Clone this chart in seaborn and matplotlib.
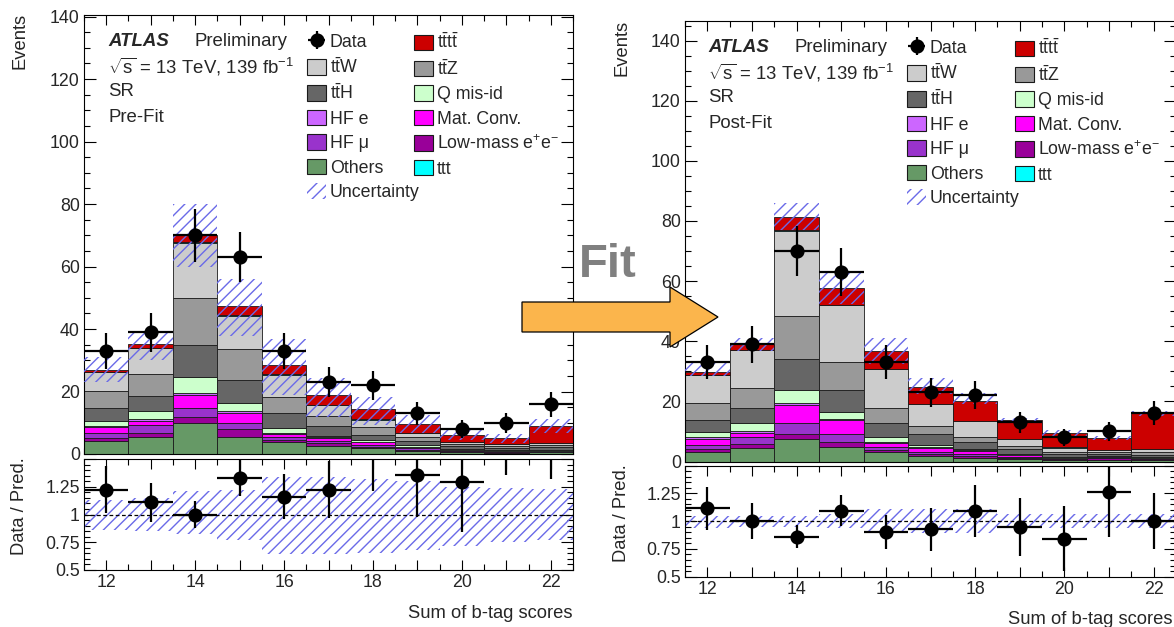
import numpy as np
import pandas as pd
import matplotlib
matplotlib.use("Agg")
import matplotlib.pyplot as plt
import seaborn as sns
from matplotlib.patches import Patch, Polygon
from matplotlib.ticker import MultipleLocator, FuncFormatter

# ---------------- binning: sum of b-tag scores ----------------
bin_edges = [11.5, 12.5, 13.5, 14.5, 15.5, 16.5, 17.5, 18.5, 19.5, 20.5, 21.5, 22.5]
bin_centers = [12, 13, 14, 15, 16, 17, 18, 19, 20, 21, 22]

# ---------------- observed data ----------------
data_events = [33, 39, 70, 63, 33, 23, 22, 13, 8, 10, 16]
data_err = [5.7, 6.2, 8.4, 7.9, 5.7, 4.8, 4.7, 3.6, 2.8, 3.2, 4.0]

# ---------------- pre-fit prediction per process ----------------
pre_others = [4.3, 5.5, 9.8, 5.6, 3.7, 2.7, 1.8, 1.0, 0.5, 0.4, 0.5]
pre_lowmass = [0.9, 1.1, 2.1, 2.3, 0.8, 0.7, 0.5, 0.4, 0.3, 0.2, 0.2]
pre_hfmu = [1.4, 2.7, 2.9, 2.1, 0.8, 0.8, 0.7, 0.4, 0.2, 0.2, 0.2]
pre_matconv = [2.0, 1.2, 4.0, 3.2, 1.1, 0.8, 0.8, 0.4, 0.2, 0.1, 0.1]
pre_hfe = [0.4, 0.7, 0.7, 0.6, 0.3, 0.3, 0.2, 0.2, 0.1, 0.1, 0.1]
pre_qmisid = [1.7, 2.6, 5.0, 2.6, 1.7, 0.6, 0.4, 0.4, 0.3, 0.2, 0.2]
pre_tth = [3.9, 4.8, 10.4, 7.3, 4.8, 3.2, 1.8, 1.4, 0.9, 0.8, 0.8]
pre_ttz = [5.5, 6.9, 14.9, 9.8, 4.9, 3.2, 2.3, 1.3, 0.8, 0.6, 0.7]
pre_ttw = [6.1, 8.3, 17.8, 10.8, 7.3, 3.4, 2.5, 1.1, 0.6, 0.5, 0.6]
pre_ttt = [0.1, 0.1, 0.2, 0.2, 0.1, 0.1, 0.1, 0.1, 0.1, 0.1, 0.1]
pre_tttt = [0.7, 1.2, 2.3, 2.9, 2.9, 3.0, 3.2, 2.9, 2.2, 1.8, 5.6]

pre_band_lo = [23.0, 30.0, 59.7, 37.8, 18.8, 11.9, 9.3, 6.6, 4.5, 3.6, 6.8]
pre_band_hi = [31.0, 39.0, 80.0, 56.0, 36.7, 24.2, 18.3, 12.5, 8.0, 6.5, 11.1]
pre_ratio_lo = [0.86, 0.85, 0.82, 0.77, 0.64, 0.64, 0.65, 0.68, 0.72, 0.75, 0.77]
pre_ratio_hi = [1.13, 1.15, 1.21, 1.22, 1.34, 1.34, 1.32, 1.30, 1.25, 1.24, 1.23]

# ---------------- post-fit prediction per process ----------------
post_others = [3.3, 4.4, 7.4, 4.7, 3.0, 1.9, 1.3, 0.8, 0.5, 0.4, 0.5]
post_lowmass = [0.8, 1.4, 1.7, 1.9, 0.8, 0.5, 0.6, 0.4, 0.2, 0.8, 0.2]
post_hfmu = [1.3, 2.2, 3.6, 2.7, 1.1, 0.9, 0.5, 0.4, 0.2, 0.2, 0.2]
post_matconv = [2.2, 1.6, 6.1, 4.4, 1.4, 1.1, 1.1, 0.4, 0.2, 0.2, 0.2]
post_hfe = [0.4, 0.5, 0.6, 0.4, 0.3, 0.3, 0.2, 0.2, 0.1, 0.1, 0.1]
post_qmisid = [1.8, 2.6, 4.3, 2.5, 1.4, 0.8, 0.3, 0.3, 0.2, 0.2, 0.4]
post_tth = [4.0, 5.0, 10.3, 7.1, 4.7, 3.6, 2.6, 1.7, 1.1, 0.5, 0.7]
post_ttz = [5.5, 6.7, 14.4, 9.4, 5.0, 2.8, 1.4, 1.0, 0.7, 0.6, 0.9]
post_ttw = [9.5, 12.6, 28.3, 18.9, 13.0, 7.2, 5.5, 2.3, 1.4, 0.7, 0.8]
post_ttt = [0.1, 0.1, 0.2, 0.2, 0.1, 0.1, 0.1, 0.1, 0.1, 0.1, 0.1]
post_tttt = [0.7, 1.9, 4.4, 5.4, 5.8, 5.6, 6.6, 6.1, 4.8, 4.1, 11.9]

post_band_lo = [28.5, 36.8, 76.9, 52.3, 32.4, 22.4, 19.1, 12.8, 8.6, 7.3, 15.0]
post_band_hi = [32.9, 41.2, 86.0, 62.8, 41.2, 27.7, 22.9, 14.5, 10.4, 8.5, 16.9]
post_ratio_lo = [0.94, 0.95, 0.95, 0.94, 0.89, 0.89, 0.89, 0.94, 0.94, 0.94, 0.94]
post_ratio_hi = [1.05, 1.05, 1.05, 1.06, 1.11, 1.11, 1.11, 1.06, 1.06, 1.06, 1.06]

# ---------------- process styling ----------------
process_keys = ["tttt", "ttt", "ttW", "ttZ", "ttH", "Qmisid", "HFe",
                "MatConv", "HFmu", "LowMass", "Others"]  # top of stack first
process_colors = {
    "tttt": "#cc0000", "ttt": "#00ffff", "ttW": "#cccccc", "ttZ": "#999999",
    "ttH": "#666666", "Qmisid": "#ccffcc", "HFe": "#cc66ff", "MatConv": "#ff00ff",
    "HFmu": "#9933cc", "LowMass": "#990099", "Others": "#669966",
}
process_labels = {
    "tttt": r"$\mathrm{t\bar{t}t\bar{t}}$", "ttt": "ttt",
    "ttW": r"$\mathrm{t\bar{t}W}$", "ttZ": r"$\mathrm{t\bar{t}Z}$",
    "ttH": r"$\mathrm{t\bar{t}H}$", "Qmisid": "Q mis-id", "HFe": "HF e",
    "MatConv": "Mat. Conv.", "HFmu": "HF μ",
    "LowMass": r"Low-mass e$^{+}$e$^{-}$", "Others": "Others",
}
legend_col1 = ["ttW", "ttH", "HFe", "HFmu", "Others"]
legend_col2 = ["tttt", "ttZ", "Qmisid", "MatConv", "LowMass", "ttt"]

prefit = {"Others": pre_others, "LowMass": pre_lowmass, "HFmu": pre_hfmu,
          "MatConv": pre_matconv, "HFe": pre_hfe, "Qmisid": pre_qmisid,
          "ttH": pre_tth, "ttZ": pre_ttz, "ttW": pre_ttw, "ttt": pre_ttt,
          "tttt": pre_tttt}
postfit = {"Others": post_others, "LowMass": post_lowmass, "HFmu": post_hfmu,
           "MatConv": post_matconv, "HFe": post_hfe, "Qmisid": post_qmisid,
           "ttH": post_tth, "ttZ": post_ttz, "ttW": post_ttw, "ttt": post_ttt,
           "tttt": post_tttt}

HATCH_COLOR = "#6a6ae8"
HATCH = "///"

# ---------------- figure setup ----------------
sns.set_theme(style="ticks")
plt.rcParams["font.family"] = ["Liberation Sans", "DejaVu Sans"]
plt.rcParams["mathtext.fontset"] = "custom"
plt.rcParams["mathtext.rm"] = "Liberation Sans"
plt.rcParams["mathtext.it"] = "Liberation Sans:italic"
plt.rcParams["mathtext.bf"] = "Liberation Sans:bold"
plt.rcParams["hatch.linewidth"] = 1.0
plt.rcParams["axes.edgecolor"] = "black"

W, H = 1174, 627
fig = plt.figure(figsize=(W / 100, H / 100), dpi=100)
fig.patch.set_facecolor("white")

TICK_FS = 12.8
LABEL_FS = 13.2
LEG_FS = 12.8


def fx(px):
    return px / W


def fy(py):
    return 1 - py / H


def rect(x0, x1, ytop, ybot):
    return [fx(x0), fy(ybot), (x1 - x0) / W, (ybot - ytop) / H]


def style_axes(ax):
    ax.set_xlim(bin_edges[0], bin_edges[-1])
    ax.xaxis.set_major_locator(MultipleLocator(1))
    ax.xaxis.set_minor_locator(MultipleLocator(0.5))
    ax.xaxis.set_major_formatter(
        FuncFormatter(lambda v, p: f"{int(round(v))}" if int(round(v)) % 2 == 0 else ""))
    ax.tick_params(axis="both", which="both", direction="in", top=True, right=True,
                   labelsize=TICK_FS, pad=3, width=0.8, color="black")
    ax.tick_params(axis="x", which="major", length=7.2)
    ax.tick_params(axis="x", which="minor", length=4)
    ax.tick_params(axis="y", which="major", length=8.6)
    ax.tick_params(axis="y", which="minor", length=4.6)
    for s in ax.spines.values():
        s.set_linewidth(0.8)
        s.set_color("black")
    ax.set_facecolor("white")
    ax.set_xlabel("")
    ax.set_ylabel("")


def draw_panel(main_rect, ratio_rect, ymax, stack, band_lo, band_hi,
               ratio_lo, ratio_hi, text_x, text_y, fit_label,
               leg_x1, leg_x2, leg_top, ylab_x, ev_top, ratio_top,
               xlab_right, xlab_y):
    ax = fig.add_axes(main_rect)
    rax = fig.add_axes(ratio_rect)

    centers = np.array(bin_centers, dtype=float)
    half_w = np.diff(bin_edges) / 2
    data = np.array(data_events, dtype=float)
    derr = np.array(data_err, dtype=float)

    # stacked prediction
    long = pd.DataFrame(
        [(c, key, v) for key in process_keys for c, v in zip(bin_centers, stack[key])],
        columns=["score", "process", "events"])
    sns.histplot(data=long, x="score", weights="events", hue="process",
                 hue_order=process_keys, multiple="stack", bins=bin_edges,
                 palette=process_colors, alpha=1, edgecolor="#1a1a1a",
                 linewidth=0.6, legend=False, ax=ax)
    total = np.sum([np.array(stack[k]) for k in process_keys], axis=0)

    # uncertainty band
    lo = np.array(band_lo)
    hi = np.array(band_hi)
    ax.bar(centers, hi - lo, bottom=lo, width=1.0, fill=False, hatch=HATCH,
           edgecolor=HATCH_COLOR, linewidth=0, zorder=3)

    # data
    data_handle = ax.errorbar(centers, data, yerr=derr, xerr=half_w, fmt="o",
                              color="black", ms=9.2, elinewidth=1.6, capsize=0,
                              zorder=5)

    ax.set_ylim(0, ymax)
    style_axes(ax)
    ax.yaxis.set_major_locator(MultipleLocator(20))
    ax.yaxis.set_minor_locator(MultipleLocator(5))
    ax.tick_params(axis="x", labelbottom=False)

    # ratio panel
    ratio = data / total
    rerr = derr / total
    rlo = np.array(ratio_lo)
    rhi = np.array(ratio_hi)
    rax.bar(centers, rhi - rlo, bottom=rlo, width=1.0, fill=False, hatch=HATCH,
            edgecolor=HATCH_COLOR, linewidth=0, zorder=2)
    rax.axhline(1.0, color="black", lw=0.9, ls=(0, (3, 2)), zorder=3)
    rax.errorbar(centers, ratio, yerr=rerr, xerr=half_w, fmt="none",
                 ecolor="black", elinewidth=1.6, capsize=0, zorder=5)
    inside = ratio <= 1.5
    rax.plot(centers[inside], ratio[inside], "o", color="black", ms=9.2, zorder=6)
    rax.set_ylim(0.5, 1.5)
    style_axes(rax)
    rax.yaxis.set_major_locator(MultipleLocator(0.25))
    rax.yaxis.set_minor_locator(MultipleLocator(0.05))
    rax.yaxis.set_major_formatter(
        FuncFormatter(lambda v, p: "" if v > 1.4 else f"{v:g}"))

    # legends
    col1_handles = [data_handle] + [
        Patch(facecolor=process_colors[k], edgecolor="#1a1a1a", linewidth=0.8)
        for k in legend_col1] + [
        Patch(facecolor="none", edgecolor=HATCH_COLOR, hatch=HATCH, linewidth=0)]
    col1_labels = ["Data"] + [process_labels[k] for k in legend_col1] + ["Uncertainty"]
    col2_handles = [Patch(facecolor=process_colors[k], edgecolor="#1a1a1a", linewidth=0.8)
                    for k in legend_col2]
    col2_labels = [process_labels[k] for k in legend_col2]
    common = dict(loc="upper left", bbox_transform=fig.transFigure, frameon=False,
                  borderpad=0, borderaxespad=0, handlelength=1.07, handleheight=0.95,
                  handletextpad=0.22, labelspacing=0.38, fontsize=LEG_FS)
    leg1 = ax.legend(col1_handles, col1_labels,
                     bbox_to_anchor=(fx(leg_x1), fy(leg_top)), **common)
    ax.add_artist(leg1)
    ax.legend(col2_handles, col2_labels,
              bbox_to_anchor=(fx(leg_x2), fy(leg_top)), **common)

    # ATLAS label block
    fig.text(fx(text_x), fy(text_y), "ATLAS", fontsize=13.4, weight="bold",
             style="italic", va="center", ha="left")
    fig.text(fx(text_x + 86), fy(text_y), "Preliminary", fontsize=13.4,
             va="center", ha="left")
    fig.text(fx(text_x), fy(text_y + 25),
             r"$\sqrt{\mathrm{s}}$ = 13 TeV, 139 fb$^{-1}$", fontsize=13.4,
             va="center", ha="left")
    fig.text(fx(text_x), fy(text_y + 50), "SR", fontsize=13.4, va="center", ha="left")
    fig.text(fx(text_x), fy(text_y + 75), fit_label, fontsize=13.4,
             va="center", ha="left")

    # axis titles
    fig.text(fx(ylab_x), fy(ev_top), "Events", rotation=90, fontsize=LABEL_FS,
             ha="center", va="top")
    fig.text(fx(ylab_x), fy(ratio_top), "Data / Pred.", rotation=90,
             fontsize=LABEL_FS, ha="center", va="top")
    fig.text(fx(xlab_right), fy(xlab_y), "Sum of b-tag scores", fontsize=LABEL_FS,
             ha="right", va="center")


# pre-fit (left)
draw_panel(rect(84, 573, 15, 454), rect(84, 573, 459, 570), 140.5,
           prefit, pre_band_lo, pre_band_hi, pre_ratio_lo, pre_ratio_hi,
           text_x=108, text_y=42, fit_label="Pre-Fit",
           leg_x1=307, leg_x2=414, leg_top=33, ylab_x=20, ev_top=13,
           ratio_top=457, xlab_right=572, xlab_y=613)

# post-fit (right)
draw_panel(rect(685, 1176, 20.7, 461.5), rect(685, 1176, 465.5, 576.7), 146.6,
           postfit, post_band_lo, post_band_hi, post_ratio_lo, post_ratio_hi,
           text_x=708, text_y=48, fit_label="Post-Fit",
           leg_x1=907, leg_x2=1015, leg_top=39, ylab_x=622, ev_top=20,
           ratio_top=464, xlab_right=1173, xlab_y=620)

# "Fit" arrow between the two panels
arrow_px = [(522, 302), (670, 302), (670, 287), (718, 317),
            (670, 347), (670, 332), (522, 332)]
fig.add_artist(Polygon([(fx(x), fy(y)) for x, y in arrow_px], closed=True,
                       transform=fig.transFigure, facecolor="#fbb54c",
                       edgecolor="black", linewidth=0.9, zorder=10))
fig.text(fx(608), fy(265), "Fit", fontsize=34, weight="bold", color="#808080",
         ha="center", va="center", zorder=11)

fig.savefig("out.png", dpi=100, facecolor="white")
